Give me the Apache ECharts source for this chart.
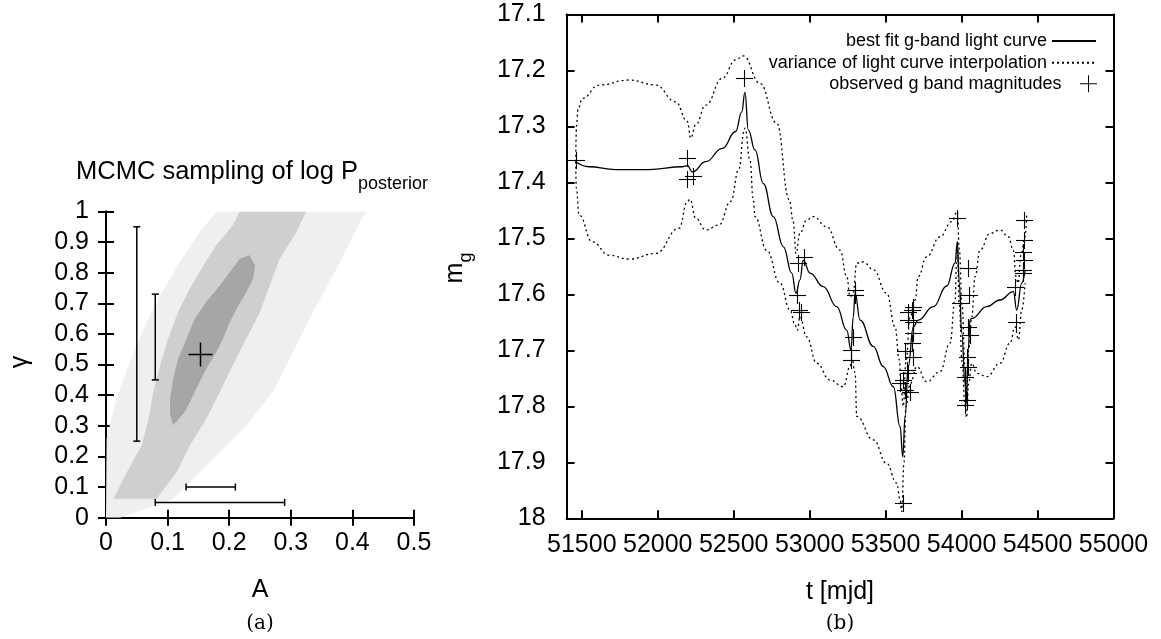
<!DOCTYPE html>
<html><head><meta charset="utf-8">
<script src="https://cdn.jsdelivr.net/npm/echarts@6/dist/echarts.min.js"></script>
<style>html,body{margin:0;padding:0;background:#fff}#c{width:1161px;height:639px}</style>
</head><body><div id="c"></div>
<script>
// ===== Panel (a): MCMC sampling, A vs gamma =====
// density outlines of the sample cloud [A, gamma]
const cloudSparse = [[0.0,0.0],[0.023,0.0],[0.109,0.062],[0.163,0.171],[0.228,0.302],[0.271,0.411],[0.304,0.541],[0.336,0.672],[0.380,0.835],[0.412,0.966],[0.423,1.0],[0.179,1.0],[0.152,0.933],[0.120,0.835],[0.088,0.726],[0.061,0.617],[0.039,0.508],[0.017,0.389],[0.001,0.258]];
const cloudMedium = [[0.082,0.062],[0.115,0.149],[0.136,0.236],[0.163,0.323],[0.185,0.411],[0.206,0.498],[0.228,0.585],[0.250,0.672],[0.266,0.759],[0.282,0.846],[0.309,0.933],[0.325,1.0],[0.217,1.0],[0.206,0.955],[0.179,0.890],[0.158,0.824],[0.136,0.748],[0.117,0.672],[0.101,0.585],[0.088,0.498],[0.077,0.411],[0.069,0.323],[0.058,0.236],[0.034,0.149],[0.012,0.062]];
const cloudCore = [[0.109,0.302],[0.128,0.345],[0.144,0.410],[0.163,0.487],[0.179,0.541],[0.190,0.585],[0.201,0.639],[0.215,0.694],[0.228,0.737],[0.239,0.780],[0.242,0.824],[0.233,0.857],[0.217,0.846],[0.201,0.802],[0.185,0.759],[0.163,0.705],[0.144,0.650],[0.131,0.585],[0.117,0.519],[0.109,0.454],[0.104,0.389],[0.104,0.335]];
const bestFitA = [[0.153, 0.534]];
// vertical error bars: [A, gammaLow, gammaHigh]
const vErrorBars = [[0.05, 0.25, 0.95], [0.08, 0.45, 0.73]];
// horizontal error bars: [gamma, ALow, AHigh]
const hErrorBars = [[0.10, 0.13, 0.21], [0.05, 0.08, 0.29]];

// ===== Panel (b): g-band light curve =====
const fitCurve = [[51460,17.363],[51547,17.372],[51723,17.377],[51942,17.377],[52162,17.372],[52195,17.370],[52228,17.381],[52316,17.363],[52425,17.339],[52513,17.309],[52553,17.274],[52574,17.239],[52596,17.306],[52640,17.342],[52695,17.402],[52761,17.461],[52827,17.515],[52882,17.562],[52910,17.598],[52936,17.574],[52958,17.539],[53002,17.562],[53090,17.586],[53178,17.622],[53244,17.664],[53272,17.699],[53287,17.640],[53299,17.598],[53332,17.646],[53419,17.693],[53485,17.729],[53551,17.765],[53595,17.836],[53613,17.890],[53628,17.818],[53649,17.729],[53682,17.658],[53715,17.646],[53814,17.622],[53902,17.585],[53957,17.544],[53972,17.506],[53985,17.580],[54001,17.669],[54023,17.759],[54031,17.795],[54044,17.699],[54055,17.646],[54067,17.643],[54166,17.622],[54253,17.610],[54341,17.595],[54363,17.628],[54396,17.580],[54418,17.556]];
const upperEnvelope = [[51460,17.363],[51465,17.300],[51475,17.270],[51503,17.250],[51613,17.226],[51811,17.217],[51986,17.226],[52118,17.256],[52195,17.291],[52217,17.321],[52250,17.297],[52316,17.262],[52425,17.214],[52513,17.181],[52563,17.174],[52673,17.223],[52783,17.294],[52866,17.431],[52892,17.470],[52910,17.527],[52936,17.491],[52981,17.467],[53024,17.461],[53112,17.479],[53200,17.521],[53244,17.568],[53266,17.604],[53285,17.600],[53310,17.544],[53353,17.542],[53419,17.556],[53507,17.598],[53562,17.658],[53590,17.717],[53601,17.765],[53616,17.800],[53634,17.720],[53661,17.640],[53694,17.610],[53715,17.568],[53770,17.533],[53858,17.497],[53935,17.470],[53972,17.452],[53985,17.520],[54003,17.620],[54023,17.730],[54033,17.770],[54046,17.700],[54067,17.640],[54089,17.568],[54121,17.521],[54187,17.491],[54253,17.485],[54308,17.497],[54341,17.521],[54358,17.568],[54372,17.580],[54391,17.530],[54418,17.497],[54429,17.455]];
const lowerEnvelope = [[51460,17.363],[51464,17.410],[51482,17.458],[51569,17.506],[51679,17.530],[51811,17.537],[51986,17.527],[52140,17.482],[52195,17.434],[52212,17.430],[52250,17.464],[52316,17.485],[52403,17.476],[52480,17.434],[52535,17.375],[52568,17.309],[52574,17.303],[52607,17.360],[52629,17.431],[52640,17.461],[52717,17.521],[52805,17.580],[52871,17.628],[52904,17.655],[52919,17.664],[52936,17.640],[52981,17.676],[53046,17.723],[53134,17.753],[53222,17.765],[53266,17.729],[53279,17.715],[53299,17.740],[53310,17.818],[53419,17.860],[53507,17.902],[53573,17.937],[53595,17.967],[53606,17.988],[53621,17.900],[53634,17.800],[53661,17.760],[53705,17.729],[53770,17.756],[53858,17.738],[53924,17.687],[53957,17.610],[53968,17.539],[53972,17.520],[53985,17.620],[54003,17.720],[54023,17.800],[54033,17.820],[54046,17.760],[54067,17.723],[54100,17.741],[54166,17.747],[54253,17.723],[54319,17.687],[54352,17.658],[54374,17.681],[54396,17.628],[54418,17.580]];
const observed = [[51460,17.360],[52195,17.356],[52195,17.394],[52232,17.388],[52568,17.214],[52925,17.544],[52963,17.533],[52915,17.601],[52932,17.628],[52941,17.631],[53299,17.592],[53299,17.601],[53288,17.676],[53272,17.699],[53272,17.717],[53613,17.973],
[53683,17.622],[53650,17.631],[53672,17.628],[53650,17.646],[53683,17.649],[53683,17.669],[53672,17.687],[53628,17.701],[53683,17.711],[53639,17.735],[53650,17.741],[53617,17.753],[53595,17.759],[53628,17.771],[53661,17.774],
[53972,17.464],[53990,17.616],[54045,17.553],[54051,17.601],[54045,17.658],[54056,17.673],[54038,17.711],[54045,17.729],[54023,17.747],[54034,17.789],[54023,17.798],
[54352,17.586],[54358,17.649],[54411,17.467],[54411,17.503],[54407,17.524],[54411,17.539],[54402,17.556],[54407,17.562]];
const tTicks = [51500,52000,52500,53000,53500,54000,54500,55000];

// ===== styling =====
const F = "'Liberation Sans', Arial, sans-serif";
const TICK_FS = 25;
const PLUS = 'path://M-0.6,-10H0.6V10H-0.6ZM-10,-0.6H10V0.6H-10Z';
const cloudLevels = [cloudSparse, cloudMedium, cloudCore];
const cloudFills = ['#efefef', '#cfcfcf', '#a6a6a6'];
const fmt1 = v => String(Math.round(v * 10) / 10);

function frameAxis(extra) {
  return Object.assign({
    axisLine: {show: true, lineStyle: {color: '#000', width: 2}},
    axisTick: {show: true, inside: true, length: 8, lineStyle: {color: '#000', width: 2}},
    splitLine: {show: false},
    axisLabel: {show: false}
  }, extra);
}
const lab = (m) => ({show: true, margin: m, color: '#000', fontSize: TICK_FS, fontFamily: F, formatter: fmt1});

// crisp plus marker drawn around a data point
function plusItem(half, width) {
  return (params, api) => {
    const c = api.coord([api.value(0), api.value(1)]);
    const x = Math.round(c[0]) + 0.5, y = Math.round(c[1]) + 0.5;
    const st = {stroke: '#000', lineWidth: width};
    return {type: 'group', children: [
      {type: 'line', shape: {x1: x - half, y1: y, x2: x + half, y2: y}, style: st},
      {type: 'line', shape: {x1: x, y1: y - half, x2: x, y2: y + half}, style: st}
    ]};
  };
}

const chart = echarts.init(document.getElementById('c'), null, {renderer: 'canvas'});
chart.setOption({
  animation: false,
  backgroundColor: '#fff',
  grid: [
    {left: 106, top: 211.5, width: 308, height: 306.2},
    {left: 566.6, top: 14.5, width: 546.9, height: 503.8}
  ],
  xAxis: [
    frameAxis({type: 'value', gridIndex: 0, position: 'bottom', min: 0, max: 0.5, interval: 0.1, axisLabel: lab(13)}),
    frameAxis({type: 'value', gridIndex: 0, position: 'top', min: 0, max: 0.5, interval: 0.1}),
    frameAxis({type: 'value', gridIndex: 1, position: 'bottom', min: 51400, max: 55000,
      axisTick: {show: true, inside: true, length: 8, lineStyle: {color: '#000', width: 2}, customValues: tTicks},
      axisLabel: {show: true, margin: 14, color: '#000', fontSize: TICK_FS, fontFamily: F, customValues: tTicks, formatter: v => String(v)}}),
    frameAxis({type: 'value', gridIndex: 1, position: 'top', min: 51400, max: 55000,
      axisTick: {show: true, inside: true, length: 8, lineStyle: {color: '#000', width: 2}, customValues: tTicks}})
  ],
  yAxis: [
    frameAxis({type: 'value', gridIndex: 0, position: 'left', min: 0, max: 1, interval: 0.1, axisLabel: lab(17)}),
    frameAxis({type: 'value', gridIndex: 0, position: 'right', min: 0, max: 1, interval: 0.1}),
    frameAxis({type: 'value', gridIndex: 1, position: 'left', inverse: true, min: 17.1, max: 18, interval: 0.1, axisLabel: lab(21)}),
    frameAxis({type: 'value', gridIndex: 1, position: 'right', inverse: true, min: 17.1, max: 18, interval: 0.1})
  ],
  legend: [
    {data: ['best fit g-band light curve'], right: 64, top: 32, itemStyle: {opacity: 0}},
    {data: ['variance of light curve interpolation'], right: 64, top: 53.7, itemStyle: {opacity: 0}},
    {data: [{name: 'observed g band magnitudes', icon: PLUS}], right: 64, top: 74.8, itemHeight: 17}
  ].map(l => Object.assign({orient: 'horizontal', align: 'right', padding: 0, itemWidth: 44, itemHeight: 16,
      selectedMode: false, textStyle: {fontSize: 18, fontFamily: F, color: '#000'}}, l)),
  series: [
    {type: 'custom', name: 'cloud', xAxisIndex: 0, yAxisIndex: 0, clip: true, silent: true,
      data: cloudLevels.map((_, i) => [i, 0]),
      renderItem: (params, api) => ({
        type: 'polygon',
        shape: {points: cloudLevels[params.dataIndex].map(p => api.coord(p))},
        style: {fill: cloudFills[params.dataIndex]}
      })},
    {type: 'custom', name: 'gammaErr', xAxisIndex: 0, yAxisIndex: 0, silent: true,
      data: vErrorBars,
      renderItem: (params, api) => {
        const a = api.coord([api.value(0), api.value(1)]), b = api.coord([api.value(0), api.value(2)]);
        const st = {stroke: '#000', lineWidth: 1.5};
        return {type: 'group', children: [
          {type: 'line', shape: {x1: a[0], y1: a[1], x2: b[0], y2: b[1]}, style: st},
          {type: 'line', shape: {x1: a[0] - 3.5, y1: a[1], x2: a[0] + 3.5, y2: a[1]}, style: st},
          {type: 'line', shape: {x1: b[0] - 3.5, y1: b[1], x2: b[0] + 3.5, y2: b[1]}, style: st}
        ]};
      }},
    {type: 'custom', name: 'AErr', xAxisIndex: 0, yAxisIndex: 0, silent: true,
      data: hErrorBars.map(d => [d[1], d[0], d[2]]),
      renderItem: (params, api) => {
        const a = api.coord([api.value(0), api.value(1)]), b = api.coord([api.value(2), api.value(1)]);
        const st = {stroke: '#000', lineWidth: 1.5};
        return {type: 'group', children: [
          {type: 'line', shape: {x1: a[0], y1: a[1], x2: b[0], y2: b[1]}, style: st},
          {type: 'line', shape: {x1: a[0], y1: a[1] - 3.5, x2: a[0], y2: a[1] + 3.5}, style: st},
          {type: 'line', shape: {x1: b[0], y1: b[1] - 3.5, x2: b[0], y2: b[1] + 3.5}, style: st}
        ]};
      }},
    {type: 'custom', name: 'best', xAxisIndex: 0, yAxisIndex: 0, data: bestFitA, silent: true,
      renderItem: plusItem(12, 1.5)},

    {type: 'line', name: 'best fit g-band light curve', xAxisIndex: 2, yAxisIndex: 2, data: fitCurve,
      symbol: 'none', showSymbol: false, smooth: 0.45, smoothMonotone: 'x',
      lineStyle: {color: '#000', width: 1.3}, itemStyle: {color: '#000'}},
    {type: 'line', name: 'variance of light curve interpolation', xAxisIndex: 2, yAxisIndex: 2, data: upperEnvelope,
      symbol: 'none', showSymbol: false, smooth: 0.45, smoothMonotone: 'x',
      lineStyle: {color: '#000', width: 1.3, type: [2, 3]}, itemStyle: {color: '#000'}},
    {type: 'line', name: 'variance of light curve interpolation', xAxisIndex: 2, yAxisIndex: 2, data: lowerEnvelope,
      symbol: 'none', showSymbol: false, smooth: 0.45, smoothMonotone: 'x',
      lineStyle: {color: '#000', width: 1.3, type: [2, 3]}, itemStyle: {color: '#000'}},
    {type: 'custom', name: 'observed g band magnitudes', xAxisIndex: 2, yAxisIndex: 2, data: observed,
      itemStyle: {color: '#000'}, renderItem: plusItem(8.5, 1.1)}
  ],
  graphic: [
    {type: 'text', x: 76, y: 193, style: {text: '{a|MCMC sampling of log P}{b|posterior}', align: 'left', verticalAlign: 'bottom',
      rich: {a: {fontSize: 25.5, fontFamily: F, fill: '#000', lineHeight: 25, padding: [0, 0, 8, 0], verticalAlign: 'bottom'},
             b: {fontSize: 18, fontFamily: F, fill: '#000', lineHeight: 18, verticalAlign: 'bottom'}}}},
    {type: 'text', x: 20, y: 362, rotation: Math.PI / 2, style: {text: 'γ', fontSize: 25, fontFamily: F, fill: '#000', align: 'center', verticalAlign: 'middle'}},
    {type: 'text', x: 260, y: 590, style: {text: 'A', fontSize: 25, fontFamily: F, fill: '#000', align: 'center', verticalAlign: 'middle'}},
    {type: 'text', x: 260, y: 624, style: {text: '(a)', fontSize: 20, fontFamily: "'DejaVu Serif', serif", fill: '#000', align: 'center', verticalAlign: 'middle'}},
    {type: 'text', x: 463, y: 268, rotation: Math.PI / 2, style: {text: '{a|m}{b|g}', align: 'center', verticalAlign: 'middle',
      rich: {a: {fontSize: 25, fontFamily: F, fill: '#000', lineHeight: 25, padding: [0, 0, 8, 0], verticalAlign: 'bottom'},
             b: {fontSize: 18, fontFamily: F, fill: '#000', lineHeight: 18, verticalAlign: 'bottom'}}}},
    {type: 'text', x: 840, y: 592, style: {text: 't [mjd]', fontSize: 25, fontFamily: F, fill: '#000', align: 'center', verticalAlign: 'middle'}},
    {type: 'text', x: 840, y: 624, style: {text: '(b)', fontSize: 20, fontFamily: "'DejaVu Serif', serif", fill: '#000', align: 'center', verticalAlign: 'middle'}}
  ]
});
</script>
</body></html>
